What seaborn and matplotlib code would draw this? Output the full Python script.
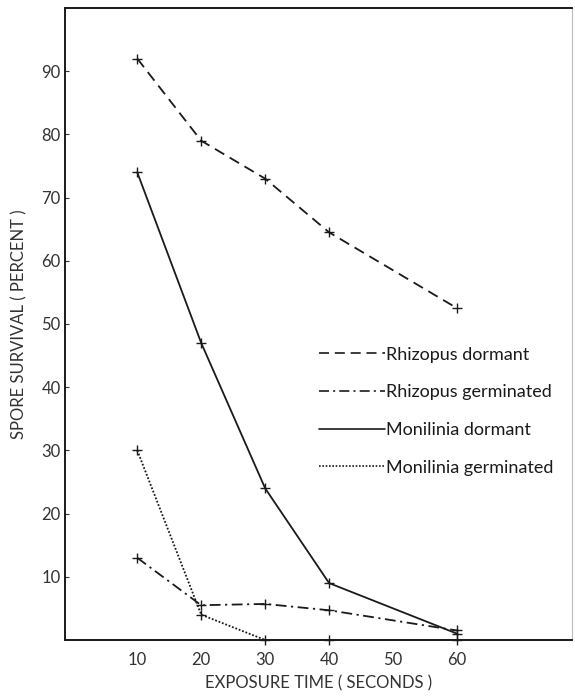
import matplotlib
matplotlib.use("Agg")
import matplotlib.pyplot as plt
import seaborn as sns
import pandas as pd
from matplotlib.lines import Line2D

sns.set_theme(style="white")
plt.rcParams['font.family'] = ['Lato', 'DejaVu Sans']

exposure = [10, 20, 30, 40, 60]
rhizopus_dormant = [92, 79, 73, 64.5, 52.5]
rhizopus_germinated = [13, 5.5, 5.7, 4.7, 1.5]
monilinia_dormant = [74, 47, 24, 9, 1]
monilinia_germinated = [30, 4, 0, 0, 0]

series_names = ["Rhizopus dormant", "Rhizopus germinated",
                "Monilinia dormant", "Monilinia germinated"]
series_values = [rhizopus_dormant, rhizopus_germinated,
                 monilinia_dormant, monilinia_germinated]

rows = []
for name, vals in zip(series_names, series_values):
    for x, y in zip(exposure, vals):
        rows.append({"time": x, "survival": y, "series": name})
df = pd.DataFrame(rows)

dashes = {
    "Rhizopus dormant": (6, 3.5),
    "Rhizopus germinated": (6, 2.5, 1.2, 2.5),
    "Monilinia dormant": "",
    "Monilinia germinated": (1, 1),
}

fig = plt.figure(figsize=(5.75, 6.96), dpi=100)
ax = fig.add_axes([0.113, 0.0805, 0.882, 0.908])

sns.lineplot(data=df, x="time", y="survival", style="series",
             dashes=dashes, markers={n: "+" for n in series_names},
             color="#1a1a1a", linewidth=1.3, markersize=7,
             markeredgewidth=1.0, markeredgecolor="#1a1a1a",
             ax=ax, legend=False, sort=False)
for ln in ax.get_lines():
    ln.set_clip_on(False)
    ln.set_zorder(5)

ax.set_xlim(-1.3, 78)
ax.set_ylim(0, 100)
ax.set_xticks([10, 20, 30, 40, 50, 60])
ax.set_xticklabels(["10", "20", "30", "40", "50", "60"])
ax.set_yticks([10, 20, 30, 40, 50, 60, 70, 80, 90])
ax.tick_params(axis="y", direction="in", length=3, width=0.8, colors="#333333",
               labelsize=12, pad=3, left=True)
ax.tick_params(axis="x", length=0, labelsize=12, colors="#333333", pad=9)

for side in ["left", "bottom", "top"]:
    ax.spines[side].set_color("#1a1a1a")
    ax.spines[side].set_linewidth(1.4)
ax.spines["right"].set_color("#bbbbbb")
ax.spines["right"].set_linewidth(0.8)

ax.set_xlabel("EXPOSURE TIME ( SECONDS )", fontsize=12, color="#333333", labelpad=5)
ax.set_ylabel("SPORE SURVIVAL ( PERCENT )", fontsize=12, color="#333333", labelpad=10)

handles = []
for n in series_names:
    h = Line2D([], [], color="#1a1a1a", linewidth=1.2)
    if dashes[n]:
        h.set_dashes(dashes[n])
    handles.append(h)
leg = ax.legend(handles, series_names, loc="upper left",
                bbox_to_anchor=(0.468, 0.49), frameon=False,
                fontsize=13, handlelength=3.7, handletextpad=0.05,
                labelspacing=1.2)
for t in leg.get_texts():
    t.set_color("#1a1a1a")

fig.savefig("out.png", dpi=100)
